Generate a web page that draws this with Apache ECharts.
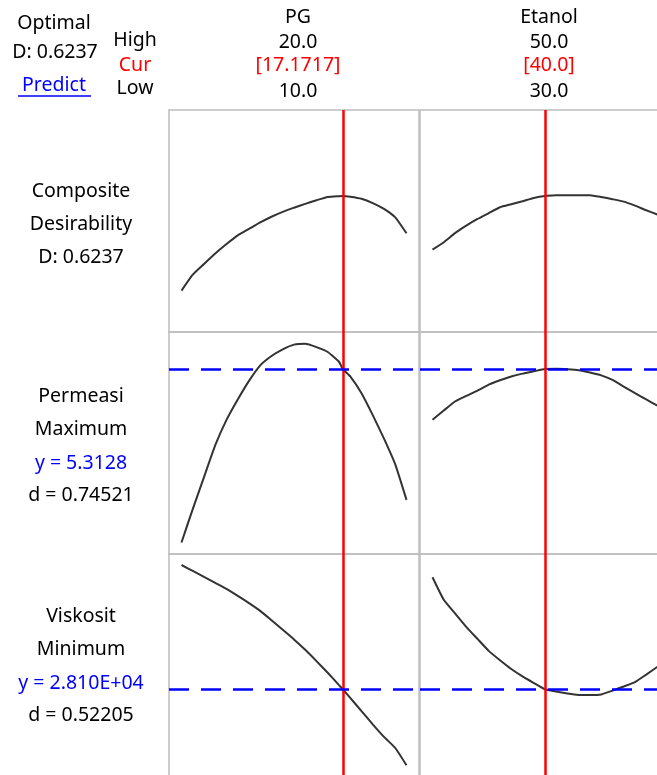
<!DOCTYPE html>
<html><head><meta charset="utf-8">
<script src="https://cdn.jsdelivr.net/npm/echarts@6/dist/echarts.min.js"></script>
<style>html,body{margin:0;padding:0;background:#fff;overflow:hidden;}#c{width:657px;height:775px;}</style>
</head><body><div id="c"></div>
<script>
// ---- data ----
const factorNames = ['PG', 'Etanol'];
const factorHigh = ['20.0', '50.0'];
const factorCur = ['[17.1717]', '[40.0]'];
const factorLow = ['10.0', '30.0'];
const curPG = 17.1717;
const curEt = 40;

const pgX = [10, 10.5, 11, 11.5, 12, 12.5, 13, 13.5, 14, 14.5, 15, 15.5, 16, 16.5, 17, 17.1717, 17.5, 18, 18.5, 19, 19.5, 20];
const etX = [30, 31, 32, 33, 34, 35, 36, 37, 38, 39, 40, 41, 42, 43, 44, 45, 46, 47, 48, 49, 50];

const compPG = [0.155, 0.234, 0.287, 0.339, 0.386, 0.429, 0.461, 0.493, 0.521, 0.545, 0.566, 0.585, 0.603, 0.619, 0.623, 0.6237, 0.620, 0.610, 0.589, 0.560, 0.518, 0.439];
const compEt = [0.358, 0.395, 0.44, 0.477, 0.51, 0.539, 0.568, 0.583, 0.598, 0.614, 0.6237, 0.627, 0.628, 0.628, 0.628, 0.619, 0.608, 0.596, 0.576, 0.553, 0.532];

const permPG = [3.36, 3.735, 4.095, 4.455, 4.74, 4.97, 5.18, 5.355, 5.46, 5.535, 5.588, 5.598, 5.56, 5.505, 5.395, 5.3128, 5.23, 5.04, 4.794, 4.53, 4.24, 3.84];
const permEt = [4.742, 4.845, 4.947, 5.01, 5.07, 5.137, 5.187, 5.229, 5.261, 5.287, 5.3128, 5.315, 5.31, 5.30, 5.274, 5.242, 5.19, 5.115, 5.042, 4.97, 4.90];

const viskPG = [40530, 39940, 39350, 38750, 38150, 37450, 36720, 35940, 35000, 34050, 33090, 32050, 30920, 29750, 28520, 28100, 27240, 25920, 24600, 23340, 22230, 20500];
const viskEt = [39300, 37050, 35700, 34350, 33140, 31940, 31000, 30130, 29390, 28740, 28100, 27880, 27680, 27540, 27530, 27590, 27970, 28380, 28820, 29570, 30350];

const yPerm = 5.3128;
const yVisk = 28100;

const headLeft = ['Optimal', 'D: 0.6237', 'Predict'];
const headRows = ['High', 'Cur', 'Low'];
const respLabels = [
  ['Composite', 'Desirability', 'D: 0.6237'],
  ['Permeasi', 'Maximum', 'y = 5.3128', 'd = 0.74521'],
  ['Viskosit', 'Minimum', 'y = 2.810E+04', 'd = 0.52205']
];

// ---- layout/style ----
const FONT = '19.5px "Noto Sans", "Open Sans", sans-serif';
const BLACK = '#000000', RED = '#ff0000', BLUE = '#0000ff';
const colLeft = [169, 420], colW = 250;
const rowTop = [110, 332, 554], rowH = 222;
const xRanges = [[9.4444, 20.5556], [28.8889, 51.1111]];
const yRanges = [[-0.05, 1.05], [3.23, 5.73], [19430, 41630]];
const rowData = [[compPG, compEt], [permPG, permEt], [viskPG, viskEt]];
const colX = [pgX, etX];
const colCur = [curPG, curEt];
const rowRef = [null, yPerm, yVisk];

const grids = [], xAxes = [], yAxes = [], series = [];
let gi = 0;
for (let r = 0; r < 3; r++) {
  for (let c = 0; c < 2; c++) {
    grids.push({left: colLeft[c], top: rowTop[r], width: colW, height: rowH, show: true,
      borderColor: '#bdbdbd', borderWidth: 1.5, backgroundColor: 'transparent', containLabel: false, outerBoundsMode: 'none'});
    xAxes.push({type: 'value', gridIndex: gi, min: xRanges[c][0], max: xRanges[c][1],
      axisLine: {show: false}, axisTick: {show: false}, axisLabel: {show: false}, splitLine: {show: false}});
    yAxes.push({type: 'value', gridIndex: gi, min: yRanges[r][0], max: yRanges[r][1],
      axisLine: {show: false}, axisTick: {show: false}, axisLabel: {show: false}, splitLine: {show: false}});
    const xs = colX[c], ys = rowData[r][c];
    const mlData = [{xAxis: colCur[c], lineStyle: {color: RED, width: 2.5, type: 'solid'}}];
    if (rowRef[r] !== null) mlData.push({yAxis: rowRef[r], lineStyle: {color: BLUE, width: 2.5, type: [20, 12]}});
    series.push({type: 'line', xAxisIndex: gi, yAxisIndex: gi, data: xs.map((x, i) => [x, ys[i]]),
      showSymbol: false, symbol: 'none', smooth: 0.15, silent: true, animation: false, clip: false,
      lineStyle: {color: '#333333', width: 2},
      markLine: {silent: true, symbol: ['none', 'none'], animation: false, label: {show: false},
        data: mlData}});
    gi++;
  }
}

const graphic = [];
function txt(text, x, y, color) {
  graphic.push({type: 'text', x: x, y: y, silent: true,
    style: {text: text, font: FONT, fill: color || BLACK, textAlign: 'center', textVerticalAlign: 'middle'}});
}
// header left
txt(headLeft[0], 54, 23);
txt(headLeft[1], 55, 52);
txt(headLeft[2], 54, 85, BLUE);
graphic.push({type: 'line', silent: true, shape: {x1: 18, y1: 96, x2: 91, y2: 96}, style: {stroke: BLUE, lineWidth: 1.5}});
txt(headRows[0], 135, 40);
txt(headRows[1], 135, 65, RED);
txt(headRows[2], 135, 88);
// factor columns
const colCenter = [298, 549];
for (let c = 0; c < 2; c++) {
  txt(factorNames[c], colCenter[c], 17);
  txt(factorHigh[c], colCenter[c], 42);
  txt(factorCur[c], colCenter[c], 65, RED);
  txt(factorLow[c], colCenter[c], 91);
}
// response labels
const labelY = [[191, 224, 257], [396, 429, 463, 495], [616, 649, 683, 715]];
for (let r = 0; r < 3; r++) {
  respLabels[r].forEach((t, i) => {
    const blue = t.indexOf('y =') === 0;
    txt(t, 81, labelY[r][i], blue ? BLUE : BLACK);
  });
}

const chart = echarts.init(document.getElementById('c'), null, {renderer: 'canvas'});
chart.setOption({animation: false, backgroundColor: '#ffffff', grid: grids, xAxis: xAxes, yAxis: yAxes, series: series, graphic: graphic});
</script></body></html>
